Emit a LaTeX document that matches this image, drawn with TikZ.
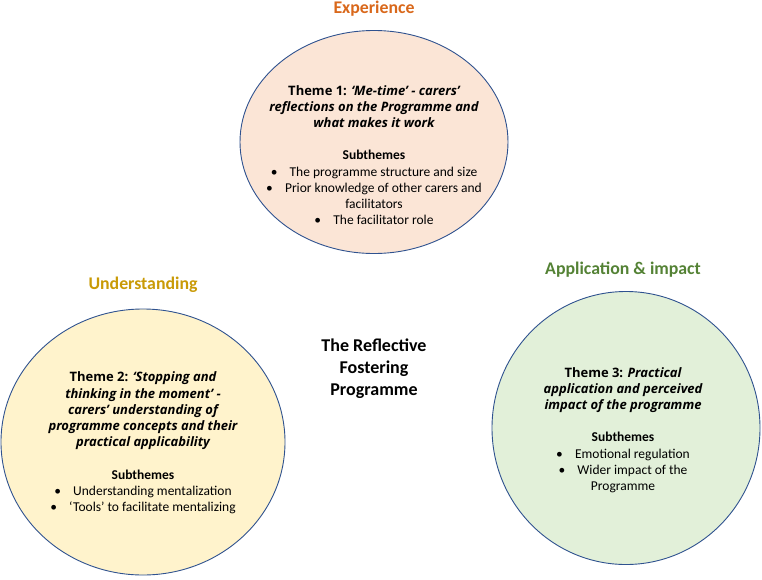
\documentclass[tikz,border=0pt]{standalone}
\usepackage{fontspec}
\setmainfont{Carlito}
\newfontfamily\themefont{Open Sans}
\usepackage{tikz}
\usetikzlibrary{shapes.geometric}
\definecolor{ringblue}{HTML}{2F528F}
\definecolor{peach}{HTML}{FBE5D6}
\definecolor{paleyellow}{HTML}{FFF3CC}
\definecolor{palegreen}{HTML}{E2F0D9}
\definecolor{exporange}{HTML}{D9681B}
\definecolor{undgold}{HTML}{C99A06}
\definecolor{appgreen}{HTML}{548235}
\tikzset{
  ring/.style={draw=ringblue,line width=0.9pt,ellipse,inner sep=0pt},
  heading/.style={font=\fontsize{17.8}{21}\selectfont\bfseries},
  themetext/.style={align=center,inner sep=0pt,font=\fontsize{13.5}{16.2}\selectfont}
}
\newcommand{\bul}{\textbullet\hspace{0.9em}}
\newcommand{\thm}[1]{{\themefont\fontsize{13}{16.2}\selectfont\bfseries #1}}
\begin{document}
\begin{tikzpicture}[x=1pt,y=-1pt]
      \useasboundingbox (0,0) rectangle (762,579); % page size
      \node[ring,fill=peach,minimum width=268pt,minimum height=223pt] (exp) at (374,142) {}; % top circle
      \node[ring,fill=paleyellow,minimum width=284pt,minimum height=266pt] (und) at (143,442) {}; % left circle
      \node[ring,fill=palegreen,minimum width=268pt,minimum height=273pt] (app) at (626,428) {}; % right circle
      \node[heading,text=exporange] (exptitle) at (374,9) {Experience}; % top label
      \node[heading,text=undgold] (undtitle) at (143,285) {Understanding}; % left label
      \node[heading,text=appgreen] (apptitle) at (623,270) {Application \& impact}; % right label
      \node[align=center,font=\fontsize{18}{22}\selectfont\bfseries] (centre) at (374,369) {The Reflective\\Fostering\\Programme}; % centre text
      \node[themetext] (exptext) at (374,155) {\thm{Theme 1: \itshape‘Me-time’ - carers’}\\
        \thm{\itshape reflections on the Programme and}\\
        \thm{\itshape what makes it work}\\[16.2pt]
        \textbf{Subthemes}\\
        \bul The programme structure and size\\
        \bul Prior knowledge of other carers and\\
        facilitators\\
        \bul The facilitator role}; % theme 1
      \node[themetext] (undtext) at (143,443) {\thm{Theme 2: \itshape‘Stopping and}\\
        \thm{\itshape thinking in the moment’ -}\\
        \thm{\itshape carers’ understanding of}\\
        \thm{\itshape programme concepts and their}\\
        \thm{\itshape practical applicability}\\[16.2pt]
        \textbf{Subthemes}\\
        \bul Understanding mentalization\\
        \bul ‘Tools’ to facilitate mentalizing}; % theme 2
      \node[themetext] (apptext) at (623,430) {\thm{Theme 3: \itshape Practical}\\
        \thm{\itshape application and perceived}\\
        \thm{\itshape impact of the programme}\\[16.2pt]
        \textbf{Subthemes}\\
        \bul Emotional regulation\\
        \bul Wider impact of the\\
        Programme}; % theme 3
\end{tikzpicture}
\end{document}
